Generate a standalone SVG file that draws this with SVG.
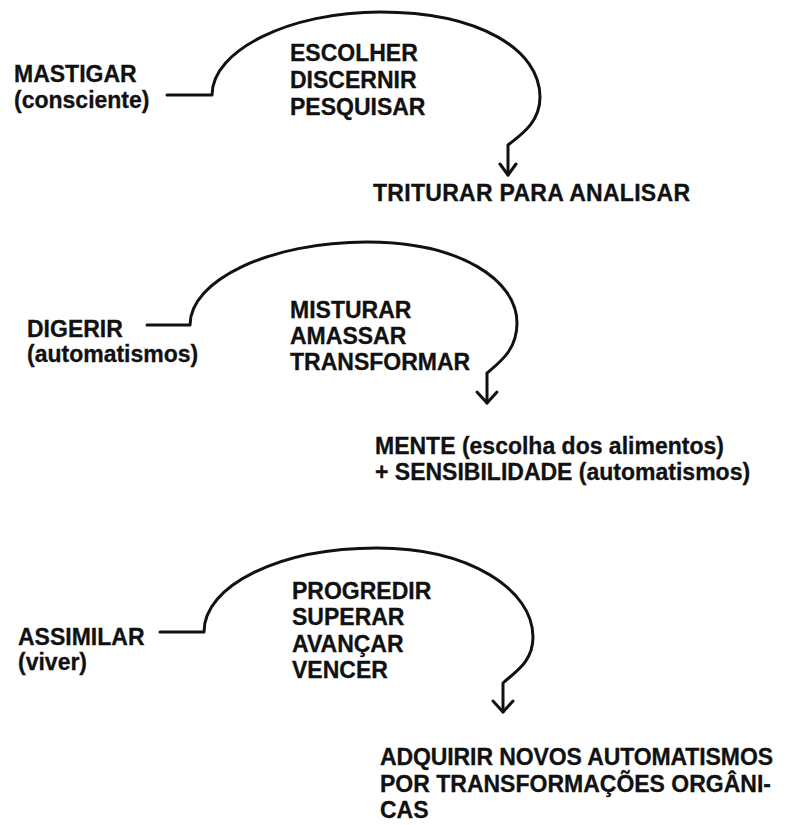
<svg xmlns="http://www.w3.org/2000/svg" width="788" height="825" viewBox="0 0 788 825">
<style>
  text { font-family: "Liberation Sans", Arial, Helvetica, sans-serif; font-weight: bold; font-size: 23px; fill: #111; stroke: #111; stroke-width: 0.3; }
  .conn { fill: none; stroke: #111; stroke-width: 3; stroke-linejoin: round; stroke-linecap: round; }
</style>
<rect width="788" height="825" fill="#fff"/>
<g id="connectors">
  <path class="conn" d="M167,95 H212 C212,50 290,12 380,12 C480,12 540,50 540,97 C540,122 522,134 508,145 V175"/>
  <path class="conn" d="M500,164 L508,175 L516,164"/>
  <path class="conn" d="M147,325 H190 C190,280 270,242 367,242 C460,242 517,280 517,323 C517,350 500,362 487,373 V403"/>
  <path class="conn" d="M477,392 L487,403 L497,392"/>
  <path class="conn" d="M160,632 H204 C204,585 280,548 377,548 C470,548 533,590 533,637 C533,662 515,672 503,683 V712"/>
  <path class="conn" d="M493,701 L503,712 L513,701"/>
</g>
<g id="mastigar"><text x="14" y="82">MASTIGAR</text><text x="14" y="108">(consciente)</text></g>
<g id="escolher"><text x="290" y="61">ESCOLHER</text><text x="290" y="88">DISCERNIR</text><text x="290" y="115">PESQUISAR</text></g>
<g id="triturar"><text x="373" y="201" textLength="317" lengthAdjust="spacing">TRITURAR PARA ANALISAR</text></g>
<g id="digerir"><text x="27" y="337">DIGERIR</text><text x="27" y="362">(automatismos)</text></g>
<g id="misturar"><text x="290" y="318">MISTURAR</text><text x="290" y="344">AMASSAR</text><text x="290" y="370">TRANSFORMAR</text></g>
<g id="mente"><text x="375" y="454">MENTE (escolha dos alimentos)</text><text x="375" y="480">+ SENSIBILIDADE (automatismos)</text></g>
<g id="assimilar"><text x="18" y="645">ASSIMILAR</text><text x="18" y="670">(viver)</text></g>
<g id="progredir"><text x="292" y="599">PROGREDIR</text><text x="292" y="625">SUPERAR</text><text x="292" y="652">AVANÇAR</text><text x="292" y="678">VENCER</text></g>
<g id="adquirir"><text x="380" y="765" textLength="393" lengthAdjust="spacing">ADQUIRIR NOVOS AUTOMATISMOS</text><text x="380" y="792">POR TRANSFORMAÇÕES ORGÂNI-</text><text x="380" y="818">CAS</text></g>
</svg>
